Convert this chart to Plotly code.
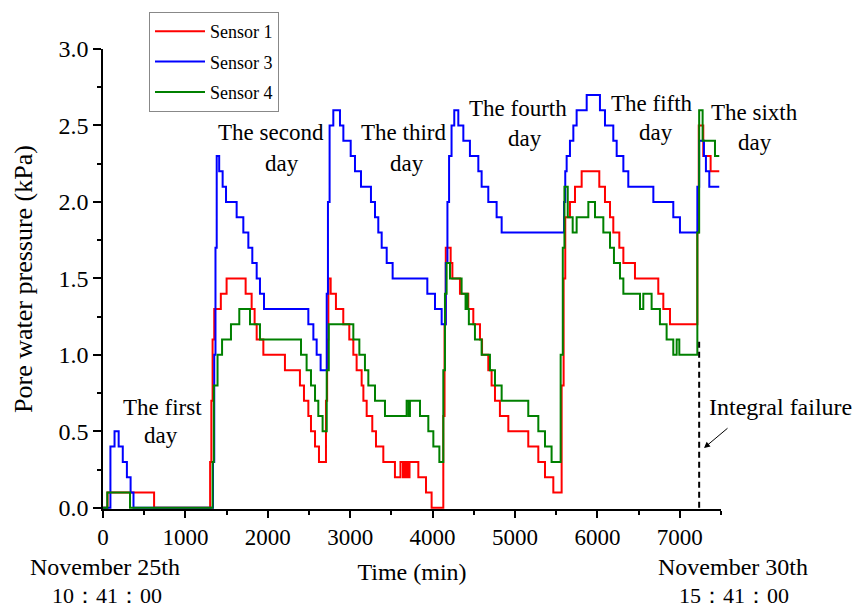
import plotly.graph_objects as go

# ---------------- data (time in min, pore water pressure in kPa) ----------------
s1_t = [0, 55, 620, 1300, 1315, 1330, 1350, 1430, 1500, 1731, 1804, 1840, 1865, 1946, 2208, 2390, 2439,
        2492, 2524, 2573, 2621, 2706, 2720, 2735, 2763, 2827, 2916, 2989, 3038, 3078, 3139, 3160, 3200,
        3268, 3313, 3402, 3543, 3610, 3640, 3660, 3675, 3690, 3700, 3720, 3827, 3920, 3988, 4130, 4145,
        4160, 4219, 4240, 4332, 4433, 4494, 4575, 4600, 4676, 4716, 4757, 4817, 4919, 5161, 5283, 5364,
        5465, 5566, 5590, 5610, 5667, 5728, 5809, 6023, 6092, 6153, 6193, 6266, 6315, 6456, 6739, 6800,
        6881, 7213, 7230, 7285, 7374, 7479]
s1_v = [0, 0.1, 0, 0.3, 0.7, 1.1, 1.3, 1.4, 1.5, 1.4, 1.3, 1.2, 1.1, 1.0, 0.9, 0.8, 0.7,
        0.6, 0.5, 0.4, 0.3, 0.7, 1.1, 1.5, 1.4, 1.3, 1.2, 1.1, 1.0, 0.9, 0.8, 0.7, 0.6,
        0.5, 0.4, 0.3, 0.2, 0.3, 0.2, 0.3, 0.2, 0.3, 0.2, 0.3, 0.2, 0.1, 0.0, 0.6, 1.2,
        1.7, 1.6, 1.5, 1.4, 1.3, 1.2, 1.1, 1.0, 0.9, 0.8, 0.7, 0.6, 0.5, 0.4, 0.3, 0.2,
        0.1, 0.8, 1.5, 1.9, 2.0, 2.1, 2.2, 2.1, 2.0, 1.9, 1.8, 1.7, 1.6, 1.5, 1.4, 1.3,
        1.2, 1.8, 2.5, 2.3, 2.2, 2.2]

s3_t = [0, 90, 140, 190, 240, 290, 335, 370, 1335, 1350, 1365, 1380, 1410, 1452, 1493, 1622, 1703,
        1764, 1812, 1865, 1905, 1954, 2492, 2553, 2593, 2641, 2715, 2730, 2750, 2795, 2876, 2917, 3006,
        3058, 3131, 3252, 3301, 3341, 3382, 3443, 3515, 3936, 4029, 4110, 4160, 4180, 4200, 4230, 4263,
        4312, 4373, 4453, 4555, 4595, 4676, 4777, 4838, 5595, 5610, 5627, 5667, 5708, 5748, 5870, 6031,
        6092, 6193, 6234, 6315, 6375, 6679, 6921, 7002, 7213, 7235, 7293, 7317, 7358, 7479]
s3_v = [0, 0.4, 0.5, 0.4, 0.3, 0.2, 0.1, 0, 0.3, 1.0, 1.7, 2.3, 2.2, 2.1, 2.0, 1.9, 1.8,
        1.7, 1.6, 1.5, 1.4, 1.3, 1.2, 1.1, 1.0, 0.9, 1.4, 2.0, 2.5, 2.6, 2.5, 2.4, 2.3,
        2.2, 2.1, 2.0, 1.9, 1.8, 1.7, 1.6, 1.5, 1.4, 1.3, 1.2, 1.6, 2.0, 2.3, 2.5, 2.6,
        2.5, 2.4, 2.3, 2.2, 2.1, 2.0, 1.9, 1.8, 2.0, 2.2, 2.3, 2.4, 2.5, 2.6, 2.7, 2.6,
        2.5, 2.4, 2.3, 2.2, 2.1, 2.0, 1.9, 1.8, 2.1, 2.4, 2.3, 2.2, 2.1, 2.1]

s4_t = [0, 52, 328, 1330, 1345, 1390, 1445, 1553, 1654, 1784, 1905, 2403, 2471, 2524, 2573, 2613,
        2665, 2715, 2740, 3038, 3111, 3179, 3220, 3301, 3422, 3685, 3710, 3725, 3847, 3948, 4009, 4082,
        4130, 4150, 4170, 4211, 4352, 4400, 4415, 4425, 4440, 4514, 4595, 4696, 4757, 4838, 5161, 5283,
        5364, 5444, 5554, 5580, 5600, 5640, 5700, 5748, 5890, 5971, 6072, 6153, 6201, 6274, 6315, 6517,
        6557, 6658, 6759, 6840, 6921, 6962, 6994, 7213, 7235, 7277, 7427, 7479]
s4_v = [0, 0.1, 0, 0.3, 0.8, 1.0, 1.1, 1.2, 1.3, 1.2, 1.1, 1.0, 0.9, 0.8, 0.7, 0.6,
        0.5, 0.9, 1.2, 1.1, 1.0, 0.9, 0.8, 0.7, 0.6, 0.7, 0.6, 0.7, 0.6, 0.5, 0.4, 0.3,
        0.9, 1.4, 1.6, 1.5, 1.4, 1.3, 1.4, 1.3, 1.2, 1.1, 1.0, 0.9, 0.8, 0.7, 0.6, 0.5,
        0.4, 0.3, 1.0, 1.7, 2.1, 1.9, 1.8, 1.9, 2.0, 1.9, 1.8, 1.7, 1.6, 1.5, 1.4, 1.3,
        1.4, 1.3, 1.2, 1.1, 1.0, 1.1, 1.0, 1.8, 2.6, 2.4, 2.3, 2.3]

series_names = ["Sensor 1", "Sensor 3", "Sensor 4"]
series_colors = ["#ff0000", "#0000ff", "#008000"]

failure_time = 7235
failure_top = 1.1

day_labels = ["The first", "The second", "The third", "The fourth", "The fifth", "The sixth"]

# ---------------- layout geometry (pixels) ----------------
W, H = 862, 607
L, R, T, B = 103, 141, 49, 98
PW, PH = W - L - R, H - T - B


def px_x(px):
    return (px - L) / PW


def px_y(py):
    return (H - B - py) / PH


FONT = "Liberation Serif, Times New Roman, serif"

fig = go.Figure()
for name, t, v, c in zip(series_names, [s1_t, s3_t, s4_t], [s1_v, s3_v, s4_v], series_colors):
    fig.add_trace(go.Scatter(x=t, y=v, mode="lines", name=name, legendgroup=name,
                             line=dict(color=c, width=2, shape="hv")))

# dashed failure line
fig.add_shape(type="line", xref="x", yref="y", x0=failure_time, x1=failure_time,
              y0=0, y1=failure_top, line=dict(color="black", width=2, dash="6px,4px"))

annotations = []
# day labels: (first line center px, second line center px)
day_pos = [((162, 407), (161, 435)),
           ((271, 133), (282, 163)),
           ((403, 133), (407, 163)),
           ((518, 108), (525, 138)),
           ((652, 103), (656, 133)),
           ((755, 113), (755, 142))]
for lab, (p1, p2) in zip(day_labels, day_pos):
    annotations.append(dict(text=lab, x=px_x(p1[0]), y=px_y(p1[1]), xref="paper", yref="paper",
                            showarrow=False, xanchor="center", yanchor="middle",
                            font=dict(family=FONT, size=23, color="black")))
    annotations.append(dict(text="day", x=px_x(p2[0]), y=px_y(p2[1]), xref="paper", yref="paper",
                            showarrow=False, xanchor="center", yanchor="middle",
                            font=dict(family=FONT, size=23, color="black")))

# date stamps under the axis
for txt, (cx, cy), fs in [("November 25th", (105, 567), 24), ("10：41：00", (107, 595), 22),
                          ("November 30th", (733, 567), 24), ("15：41：00", (734, 595), 22)]:
    annotations.append(dict(text=txt, x=px_x(cx), y=px_y(cy), xref="paper", yref="paper",
                            showarrow=False, xanchor="center", yanchor="middle",
                            font=dict(family=FONT, size=fs, color="black")))

# integral failure text + arrow
annotations.append(dict(text="Integral failure", x=px_x(707), y=px_y(407), xref="paper", yref="paper",
                        showarrow=False, xanchor="left", yanchor="middle",
                        font=dict(family=FONT, size=24, color="black")))
annotations.append(dict(text="", x=px_x(704), y=px_y(448), xref="paper", yref="paper",
                        ax=25, ay=-21, axref="pixel", ayref="pixel",
                        showarrow=True, arrowhead=2, arrowsize=1.2, arrowwidth=1, arrowcolor="black"))

fig.update_layout(
    width=W, height=H,
    margin=dict(l=L, r=R, t=T, b=B),
    paper_bgcolor="white", plot_bgcolor="white",
    font=dict(family=FONT, size=22, color="black"),
    showlegend=True,
    legend=dict(x=px_x(149), y=px_y(12), xanchor="left", yanchor="top",
                bordercolor="#888888", borderwidth=1, bgcolor="white",
                font=dict(family=FONT, size=18, color="black"),
                itemwidth=50, tracegroupgap=4, traceorder="grouped"),
    annotations=annotations,
)

fig.update_xaxes(range=[0, 7500], showgrid=False, zeroline=False,
                 showline=True, linecolor="black", linewidth=1.5,
                 ticks="outside", ticklen=7, tickwidth=1.5, tickcolor="black",
                 tickvals=[0, 1000, 2000, 3000, 4000, 5000, 6000, 7000],
                 minor=dict(dtick=500, ticks="outside", ticklen=4, tickwidth=1.5, tickcolor="black"),
                 tickfont=dict(family=FONT, size=23, color="black"),
                 title=dict(text="Time (min)", font=dict(family=FONT, size=24, color="black"), standoff=14),
                 layer="below traces")
fig.update_yaxes(range=[-0.008, 3.0], showgrid=False, zeroline=False,
                 showline=True, linecolor="black", linewidth=1.5,
                 ticks="outside", ticklen=8, tickwidth=1.5, tickcolor="black",
                 tickvals=[0, 0.5, 1.0, 1.5, 2.0, 2.5, 3.0], tickformat=".1f",
                 minor=dict(tickvals=[0.25, 0.75, 1.25, 1.75, 2.25, 2.75], ticks="outside",
                            ticklen=4, tickwidth=1.5, tickcolor="black"),
                 tickfont=dict(family=FONT, size=24, color="black"),
                 title=dict(text="Pore water pressure (kPa)", font=dict(family=FONT, size=26, color="black"),
                            standoff=18),
                 layer="below traces")

fig.write_html("out.html")
